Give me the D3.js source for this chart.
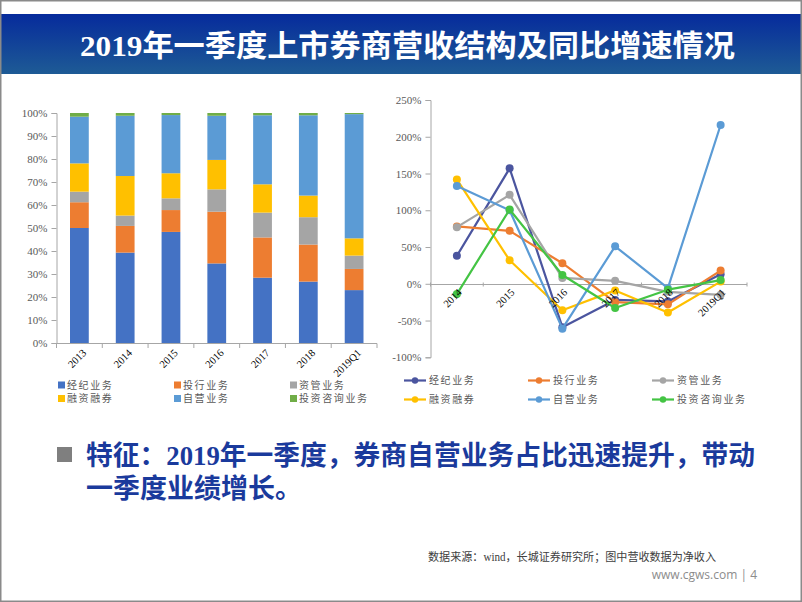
<!DOCTYPE html>
<html><head><meta charset="utf-8">
<script src="https://cdn.jsdelivr.net/npm/d3@7"></script>
<style>
html,body{margin:0;padding:0;background:#fff;}
svg{display:block;}
</style></head>
<body>
<svg id="c" width="802" height="602"></svg>
<script>
// ---------- DATA ----------
const categories = ["2013","2014","2015","2016","2017","2018","2019Q1"];
const seriesNames = ["经纪业务","投行业务","资管业务","融资融券","自营业务","投资咨询业务"];
// revenue structure shares (%)
const brokerageShare = [50.0, 39.3, 48.3, 34.6, 28.4, 26.7, 23.0];
const ibShare        = [11.2, 11.6,  9.5, 22.5, 17.5, 16.1,  9.2];
const amShare        = [ 4.6,  4.5,  5.1,  9.7, 10.8, 11.9,  5.8];
const marginShare    = [12.3, 17.2, 10.9, 12.8, 12.3,  9.4,  7.5];
const propShare      = [20.3, 26.2, 25.3, 19.2, 30.0, 34.9, 54.0];
const advisoryShare  = [ 1.6,  1.2,  0.9,  1.2,  1.0,  1.0,  0.5];
const shareTicks = [0,10,20,30,40,50,60,70,80,90,100];

// YoY growth (%)
const growthYears = ["2014","2015","2016","2017","2018","2019Q1"];
const brokerageGrowth = [ 38, 157, -59, -22, -24,  13];
const ibGrowth        = [ 78,  72,  28, -25, -28,  18];
const amGrowth        = [ 77, 121,   8,   4, -11, -15];
const marginGrowth    = [142,  32, -36,  -9, -39,   3];
const propGrowth      = [133, 100, -61,  51,  -6, 216];
const advisoryGrowth  = [-14, 101,  12, -33,  -8,   5];
const growthTicks = [-100,-50,0,50,100,150,200,250];

const titleText = "2019年一季度上市券商营收结构及同比增速情况";
const noteLine1 = "特征：2019年一季度，券商自营业务占比迅速提升，带动";
const noteLine2 = "一季度业绩增长。";
const sourceText = "数据来源：wind，长城证券研究所；图中营收数据为净收入";
const footerText = "www.cgws.com | 4";

// ---------- STYLE ----------
const barColors = ["#4472c4","#ed7d31","#a5a5a5","#ffc000","#5b9bd5","#70ad47"];
const lineColors = ["#4b559f","#ed7d31","#a5a5a5","#ffc000","#5b9bd5","#44c444"];
const serif = "'Liberation Serif','Times New Roman','Noto Sans CJK SC',serif";
const cjk = "'Noto Sans CJK SC','Liberation Serif',sans-serif";
const axisColor = "#a6a6a6";
const labelColor = "#595959";

const svg = d3.select("#c");

// header band
const defs = svg.append("defs");
const grad = defs.append("linearGradient").attr("id","hdr").attr("x1",0).attr("y1",0).attr("x2",0).attr("y2",1);
grad.append("stop").attr("offset","0%").attr("stop-color","#062b9c");
grad.append("stop").attr("offset","100%").attr("stop-color","#1e5b95");
svg.append("rect").attr("x",1).attr("y",14).attr("width",800).attr("height",60).attr("fill","url(#hdr)");
svg.append("text").attr("x",80).attr("y",56)
  .attr("textLength",655).attr("lengthAdjust","spacingAndGlyphs")
  .attr("font-family","'Liberation Serif','Noto Sans CJK SC',serif")
  .attr("font-weight","bold").attr("font-size",30).attr("fill","#fff")
  .text(titleText);

// border
svg.append("rect").attr("x",0.75).attr("y",0.75).attr("width",800.5).attr("height",600.5)
  .attr("fill","none").attr("stroke","#8a8a8a").attr("stroke-width",1.5);

// ---------- LEFT: stacked 100% bars ----------
const shares = [brokerageShare, ibShare, amShare, marginShare, propShare, advisoryShare];
const rows = categories.map((c,i)=>{const o={cat:c}; seriesNames.forEach((s,k)=>o[s]=shares[k][i]); return o;});
const stack = d3.stack().keys(seriesNames)(rows);

const xL = d3.scaleBand().domain(categories).range([56.5,377]).paddingInner(0.59).paddingOuter(0.295);
const yL = d3.scaleLinear().domain([0,100]).range([343,113]);

const gL = svg.append("g");
gL.selectAll("g.s").data(stack).join("g").attr("fill",(d,i)=>barColors[i])
  .selectAll("rect").data(d=>d).join("rect")
  .attr("x",d=>xL(d.data.cat)).attr("width",xL.bandwidth())
  .attr("y",d=>yL(d[1])).attr("height",d=>yL(d[0])-yL(d[1]));

// y axis
const yAxisL = d3.axisLeft(yL).tickValues(shareTicks).tickFormat(d=>d+"%").tickSize(5).tickPadding(4);
const gyL = gL.append("g").attr("transform","translate(56.5,0)").call(yAxisL);
gyL.select(".domain").attr("stroke",axisColor);
gyL.selectAll(".tick line").attr("stroke",axisColor);
gyL.selectAll("text").attr("font-family",serif).attr("font-size",11).attr("fill",labelColor);

// x axis
const gxL = gL.append("g");
gxL.append("line").attr("x1",56.5).attr("x2",377).attr("y1",343.5).attr("y2",343.5).attr("stroke",axisColor);
const stepL = xL.step();
gxL.selectAll("line.t").data(d3.range(categories.length+1)).join("line").attr("class","t")
  .attr("x1",i=>56.5+i*stepL).attr("x2",i=>56.5+i*stepL).attr("y1",343.5).attr("y2",348).attr("stroke",axisColor);
gxL.selectAll("text").data(categories).join("text")
  .attr("transform",d=>`translate(${xL(d)+xL.bandwidth()/2+5},351) rotate(-45)`)
  .attr("text-anchor","end").attr("dy","0.35em")
  .attr("font-family",serif).attr("font-size",10.5).attr("fill","#000").text(d=>d);

// left legend
const legL = [[58,385],[174,385],[290,385],[58,398.5],[174,398.5],[290,398.5]];
seriesNames.forEach((s,i)=>{
  const [lx,ly] = legL[i];
  svg.append("rect").attr("x",lx).attr("y",ly-3.5).attr("width",7).attr("height",7).attr("fill",barColors[i]);
  svg.append("text").attr("x",lx+9).attr("y",ly).attr("dy","0.35em")
    .attr("font-family",cjk).attr("font-size",10).attr("letter-spacing",1.6).attr("fill",labelColor).text(s);
});

// ---------- RIGHT: growth lines ----------
const growth = [brokerageGrowth, ibGrowth, amGrowth, marginGrowth, propGrowth, advisoryGrowth];
const xR = d3.scaleBand().domain(growthYears).range([430.5,747]);
const yR = d3.scaleLinear().domain([-100,250]).range([357.3,100]);
const cx = d => xR(d)+xR.bandwidth()/2;

const gR = svg.append("g");
const yAxisR = d3.axisLeft(yR).tickValues(growthTicks).tickFormat(d=>d+"%").tickSize(5).tickPadding(4);
const gyR = gR.append("g").attr("transform","translate(430.5,0)").call(yAxisR);
gyR.select(".domain").attr("stroke",axisColor);
gyR.selectAll(".tick line").attr("stroke",axisColor);
gyR.selectAll("text").attr("font-family",serif).attr("font-size",11).attr("fill",labelColor);

const y0 = Math.round(yR(0))+0.5;
gR.append("line").attr("x1",430.5).attr("x2",747).attr("y1",y0).attr("y2",y0).attr("stroke",axisColor).attr("stroke-width",1.2);
const stepR = xR.step();
gR.selectAll("line.t").data(d3.range(growthYears.length+1)).join("line").attr("class","t")
  .attr("x1",i=>430.5+i*stepR).attr("x2",i=>430.5+i*stepR).attr("y1",y0-2).attr("y2",y0+2).attr("stroke",axisColor);

const line = d3.line().x((d,i)=>cx(growthYears[i])).y(d=>yR(d));
growth.forEach((vals,k)=>{
  gR.append("path").datum(vals).attr("d",line).attr("fill","none")
    .attr("stroke",lineColors[k]).attr("stroke-width",2.2).attr("stroke-linejoin","round");
  gR.selectAll("circle.s"+k).data(vals).join("circle").attr("class","s"+k)
    .attr("cx",(d,i)=>cx(growthYears[i])).attr("cy",d=>yR(d)).attr("r",4).attr("fill",lineColors[k]);
});

gR.selectAll("text.xl").data(growthYears).join("text").attr("class","xl")
  .attr("transform",d=>`translate(${cx(d)+3},${y0+6}) rotate(-45)`)
  .attr("text-anchor","end").attr("dy","0.35em")
  .attr("font-family",serif).attr("font-size",10.5).attr("fill","#000").text(d=>d);

// right legend
const legR = [[404,380.5],[528,380.5],[652,380.5],[404,399.5],[528,399.5],[652,399.5]];
seriesNames.forEach((s,i)=>{
  const [lx,ly] = legR[i];
  svg.append("line").attr("x1",lx).attr("x2",lx+22).attr("y1",ly).attr("y2",ly).attr("stroke",lineColors[i]).attr("stroke-width",2.2);
  svg.append("circle").attr("cx",lx+11).attr("cy",ly).attr("r",3.2).attr("fill",lineColors[i]);
  svg.append("text").attr("x",lx+25).attr("y",ly).attr("dy","0.35em")
    .attr("font-family",cjk).attr("font-size",10).attr("letter-spacing",1.6).attr("fill",labelColor).text(s);
});

// ---------- note & footer ----------
svg.append("rect").attr("x",57).attr("y",447).attr("width",15).attr("height",15).attr("fill","#7f7f7f");
svg.append("text").attr("x",86).attr("y",465).attr("textLength",669).attr("lengthAdjust","spacingAndGlyphs")
  .attr("font-family","'Liberation Serif','Noto Sans CJK SC',serif").attr("font-weight","bold")
  .attr("font-size",27).attr("fill","#1a3a9c").text(noteLine1);
svg.append("text").attr("x",86).attr("y",498)
  .attr("font-family","'Liberation Serif','Noto Sans CJK SC',serif").attr("font-weight","bold")
  .attr("font-size",27).attr("fill","#1a3a9c").text(noteLine2);

svg.append("text").attr("x",428).attr("y",561).attr("textLength",288).attr("lengthAdjust","spacingAndGlyphs")
  .attr("font-family",serif).attr("font-size",11.5).attr("fill","#404040").text(sourceText);
svg.append("text").attr("x",757).attr("y",579).attr("text-anchor","end")
  .attr("font-family","'Open Sans','Noto Sans',sans-serif").attr("font-size",12).attr("fill","#8c8c8c").text(footerText);
</script>
</body></html>
